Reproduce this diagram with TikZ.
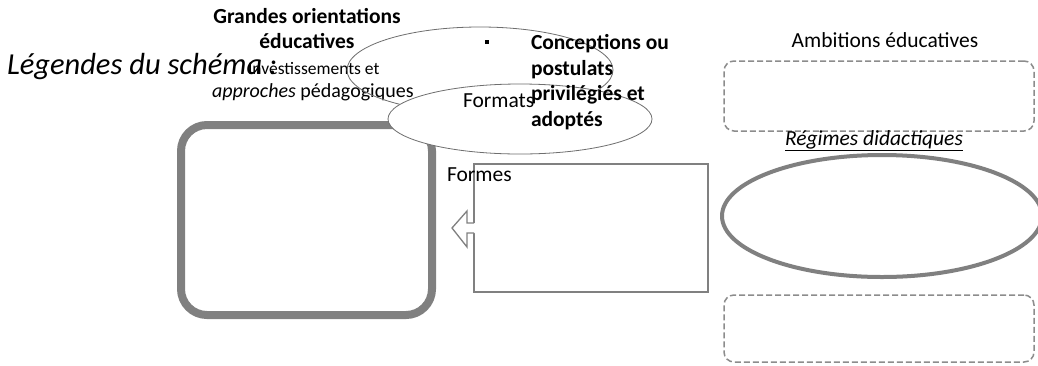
\documentclass[tikz,border=0pt]{standalone}
\usepackage{fontspec}
\setmainfont{Carlito}
\usetikzlibrary{shapes.geometric}
\definecolor{ggray}{RGB}{128,128,128}
\definecolor{dgray}{RGB}{110,110,110}
\definecolor{lgray}{RGB}{140,140,140}
\tikzset{
  txt/.style={inner sep=0pt, outer sep=0pt, font=\fontsize{21.5}{25}\selectfont},
  btxt/.style={txt, font=\fontsize{21.5}{25}\selectfont\bfseries},
  thinell/.style={draw=dgray, ellipse, line width=0.8pt, inner sep=0pt, outer sep=0pt},
  dashbox/.style={draw=lgray, line width=1.5pt, dash pattern=on 6pt off 3pt, rounded corners=10pt, inner sep=0pt, outer sep=0pt},
}
\begin{document}
\begin{tikzpicture}[x=1pt,y=-1pt]
\useasboundingbox[fill=white] (0,0) rectangle (1038,365);

% left legend texts
\node[txt, anchor=base west, font=\fontsize{30.5}{34}\selectfont\itshape] (leg) at (7,74) {Légendes du schéma :};
\node[btxt, anchor=base] (go1) at (307,23) {Grandes orientations};
\node[btxt, anchor=base] (go2) at (307,48) {éducatives};
\node[txt, anchor=base west, font=\fontsize{17.5}{21}\selectfont] (inv1) at (248,74) {Investissements et};
\node[txt, anchor=base west, font=\fontsize{20}{24}\selectfont] (inv2) at (212,97) {\textit{approches} pédagogiques};

% top ellipse (unfilled)
\node[thinell, minimum width=266pt, minimum height=86pt] (ell1) at (480,70) {};

% big rounded rectangle
\node[draw=ggray, line width=8pt, rounded corners=26pt, minimum width=251pt, minimum height=190pt, inner sep=0pt] (big) at (306.5,220) {};

% second ellipse (white filled)
\node[thinell, fill=white, minimum width=264pt, minimum height=70pt] (ell2) at (520,119) {};

\node[txt, anchor=base west] (fmt) at (463,107) {Formats};
\node[inner sep=0pt, fill=black, minimum size=4.5pt] (bul) at (487,42) {};
\node[btxt, anchor=base west] (c1) at (531,49) {Conceptions ou};
\node[btxt, anchor=base west] (c2) at (531,75) {postulats};
\node[btxt, anchor=base west] (c3) at (531,100) {privilégiés et};
\node[btxt, anchor=base west] (c4) at (531,126) {adoptés};

% Formes box
\node[draw=ggray, line width=1.5pt, minimum width=234pt, minimum height=128pt, inner sep=0pt] (formes) at (591,228) {};
\node[txt, anchor=base west] (fmtxt) at (447,181) {Formes};

% block arrow
\coordinate (atip) at (452,228);
\fill[white] (475,223) -- (467,223) -- (467,211) -- (atip) -- (467,247) -- (467,233) -- (475,233) -- cycle;
\draw[ggray, line width=1.3pt, line join=miter] (474,223) -- (467,223) -- (467,211) -- (atip) -- (467,247) -- (467,233) -- (474,233);

% right column
\node[txt, anchor=base] (amb) at (885,47) {Ambitions éducatives};
\node[dashbox, minimum width=310pt, minimum height=70pt] (d1) at (879,96) {};
\node[txt, anchor=base] (reg) at (874,145) {\underline{\textit{Régimes didactiques}}};
\node[draw=ggray, ellipse, line width=4pt, minimum width=320pt, minimum height=122pt, inner sep=0pt] (rell) at (882,216) {};
\node[dashbox, minimum width=310pt, minimum height=67pt] (d2) at (879,328.5) {};
\end{tikzpicture}
\end{document}
